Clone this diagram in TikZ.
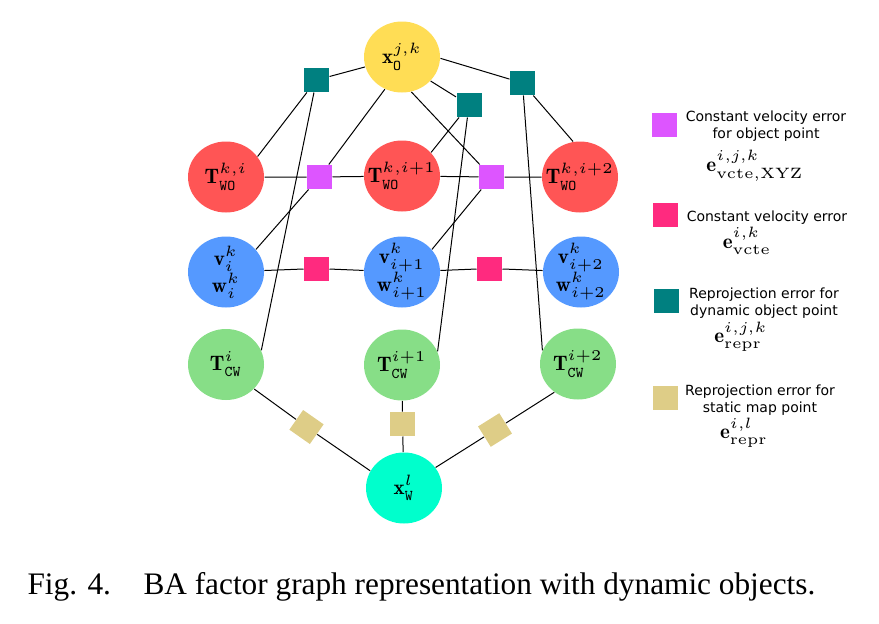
\documentclass[tikz,border=0pt]{standalone}
\usepackage{fontspec}
\usepackage{graphicx}
\usetikzlibrary{shapes.geometric}
\newfontfamily\legendfont{DejaVu Sans}
\newfontfamily\captionfont{Liberation Serif}
\newcommand{\nodemath}[2][3]{\scalebox{#1}{\fontsize{7}{7}\selectfont$#2$}}
\definecolor{objyellow}{HTML}{FFDD55}
\definecolor{posered}{HTML}{FF5555}
\definecolor{velblue}{HTML}{5599FF}
\definecolor{camgreen}{HTML}{87DE87}
\definecolor{mapcyan}{HTML}{00FFCC}
\definecolor{reprteal}{HTML}{008080}
\definecolor{cvomagenta}{HTML}{DD55FF}
\definecolor{cvpink}{HTML}{FF2A7F}
\definecolor{reprtan}{HTML}{DECD87}

\begin{document}
\begin{tikzpicture}[x=1pt,y=-1pt,line width=1pt,
    var/.style={ellipse, minimum width=76pt, minimum height=71pt, inner sep=-10pt, align=center,
        font=\fontsize{10}{27}\selectfont},
    factor/.style={minimum width=25pt, minimum height=24pt, inner sep=0pt},
    keytext/.style={align=center, inner sep=0pt, font=\legendfont\fontsize{14}{17}\selectfont},
    keymath/.style={anchor=base, inner sep=0pt}]
    \useasboundingbox (0,0) rectangle (879,624);

    % variables
    \node[var, fill=objyellow] (xo) at (402,57) {\nodemath{\mathbf{x}^{j,k}_{\mathtt{O}}}};
    \node[var, fill=posered] (two1) at (226,177) {\nodemath{\mathbf{T}^{k,i}_{\mathtt{WO}}}};
    \node[var, fill=posered] (two2) at (402,176) {\nodemath{\mathbf{T}^{k,i+1}_{\mathtt{WO}}}};
    \node[var, fill=posered] (two3) at (580,177) {\nodemath{\mathbf{T}^{k,i+2}_{\mathtt{WO}}}};
    \node[var, fill=velblue] (vw1) at (226,272) {\nodemath{\mathbf{v}^k_i}\\\nodemath{\mathbf{w}^k_i}};
    \node[var, fill=velblue] (vw2) at (402,272) {\nodemath{\mathbf{v}^k_{i+1}}\\\nodemath{\mathbf{w}^k_{i+1}}};
    \node[var, fill=velblue] (vw3) at (581,272) {\nodemath{\mathbf{v}^k_{i+2}}\\\nodemath{\mathbf{w}^k_{i+2}}};
    \node[var, fill=camgreen] (tcw1) at (226,364.5) {\nodemath{\mathbf{T}^{i}_{\mathtt{CW}}}};
    \node[var, fill=camgreen] (tcw2) at (402,365) {\nodemath{\mathbf{T}^{i+1}_{\mathtt{CW}}}};
    \node[var, fill=camgreen] (tcw3) at (578,364) {\nodemath{\mathbf{T}^{i+2}_{\mathtt{CW}}}};
    \node[var, fill=mapcyan] (xw) at (404,488) {\nodemath{\mathbf{x}^{l}_{\mathtt{W}}}};

    % factors
    \node[factor, fill=reprteal] (rpo1) at (316.5,80) {};
    \node[factor, fill=reprteal] (rpo2) at (469,105) {};
    \node[factor, fill=reprteal] (rpo3) at (522.5,83) {};
    \node[factor, fill=cvomagenta] (cvo1) at (319.5,177) {};
    \node[factor, fill=cvomagenta] (cvo2) at (491.5,177) {};
    \node[factor, fill=cvpink] (cv1) at (316.5,268.5) {};
    \node[factor, fill=cvpink] (cv2) at (489.5,268.5) {};
    \node[factor, fill=reprtan, rotate=-35] (rps1) at (306.5,427) {};
    \node[factor, fill=reprtan] (rps2) at (402.5,424) {};
    \node[factor, fill=reprtan, rotate=32] (rps3) at (495,430) {};

    % edges
    \draw (xo) -- (rpo1) -- (two1.33);
    \draw (rpo1) -- (tcw1.22);
    \draw (xo.242) -- (cvo1) -- (vw1.37);
    \draw (two1) -- (cvo1) -- (two2);
    \draw (xo.-40) -- (rpo2) -- (two2.39);
    \draw (rpo2) -- (tcw2.21);
    \draw (xo.-75) -- (cvo2) -- (vw2.37);
    \draw (two2) -- (cvo2) -- (two3);
    \draw (xo.-2) -- (rpo3) -- (two3.101);
    \draw (rpo3) -- (tcw3.159);
    \draw (vw1) -- (cv1) -- (vw2) -- (cv2) -- (vw3);
    \draw (tcw1.-41) -- (rps1) -- (xw.153);
    \draw (tcw2) -- (rps2) -- (xw);
    \draw (tcw3.-130) -- (rps3) -- (xw.33);

    % legend
    \node[factor, fill=cvomagenta] (keycvo) at (664,125) {};
    \node[keytext, anchor=north] (keycvotext) at (766,110) {Constant velocity error\\for object point};
    \node[keymath] (keycvomath) at (755,171) {\nodemath{\mathbf{e}^{i,j,k}_{\mathrm{vcte,XYZ}}}};
    \node[factor, fill=cvpink] (keycv) at (665,215) {};
    \node[keytext, anchor=base] (keycvtext) at (767,221) {Constant velocity error};
    \node[keymath] (keycvmath) at (747,248) {\nodemath{\mathbf{e}^{i,k}_{\mathrm{vcte}}}};
    \node[factor, fill=reprteal] (keyrpo) at (666,301) {};
    \node[keytext, anchor=north] (keyrpotext) at (764,287) {Reprojection error for\\dynamic object point};
    \node[keymath] (keyrpomath) at (741,342) {\nodemath{\mathbf{e}^{i,j,k}_{\mathrm{repr}}}};
    \node[factor, fill=reprtan] (keyrps) at (665,398) {};
    \node[keytext, anchor=north] (keyrpstext) at (760,384) {Reprojection error for\\static map point};
    \node[keymath] (keyrpsmath) at (744,438) {\nodemath{\mathbf{e}^{i,l}_{\mathrm{repr}}}};

    % caption
    \node[anchor=base west, inner sep=0pt, font=\captionfont\fontsize{31.3}{31.3}\selectfont] (fignum) at (27,594) {Fig. 4.};
    \node[anchor=base west, inner sep=0pt, font=\captionfont\fontsize{31.3}{31.3}\selectfont] (figcap) at (143,594) {BA factor graph representation with dynamic objects.};
\end{tikzpicture}
\end{document}
